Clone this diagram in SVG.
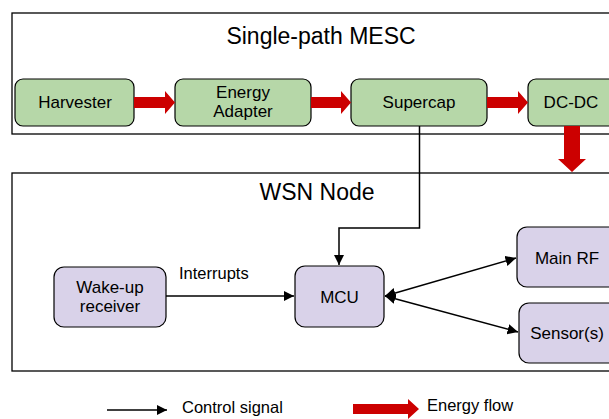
<svg xmlns="http://www.w3.org/2000/svg" width="609" height="419" viewBox="0 0 609 419">
<style>
text{font-family:"Liberation Sans",Arial,sans-serif;fill:#000}
.t{font-size:23px;text-anchor:middle}
.l{font-size:17px;text-anchor:middle}
.s{font-size:16.5px}
.frame{fill:#fff;stroke:#000;stroke-width:1.3}
.g{fill:#b6d7a8;stroke:#000;stroke-width:1.2}
.p{fill:#d9d2e9;stroke:#000;stroke-width:1.2}
.red{fill:#cc0000}
.c{fill:none;stroke:#000;stroke-width:1.5}
</style>
<defs>
<marker id="ah" viewBox="0 0 10 10" refX="10" refY="5" markerWidth="7" markerHeight="7" orient="auto-start-reverse" markerUnits="strokeWidth">
<path d="M0,0 L10,5 L0,10 z" fill="#000"/>
</marker>
</defs>
<rect class="frame" x="12" y="13" width="610" height="121"/>
<text class="t" x="321" y="44">Single-path MESC</text>
<rect class="frame" x="12" y="173" width="610" height="198"/>
<text class="t" x="317" y="200">WSN Node</text>

<g id="harvester"><rect class="g" x="15" y="79" width="119" height="47" rx="8"/><text class="l" x="75" y="108">Harvester</text></g>
<g id="energy-adapter"><rect class="g" x="175" y="79" width="136" height="47" rx="8"/><text class="l" x="243" y="98">Energy</text><text class="l" x="243" y="117">Adapter</text></g>
<g id="supercap"><rect class="g" x="351" y="79" width="136" height="47" rx="8"/><text class="l" x="419" y="108">Supercap</text></g>
<g id="dcdc"><rect class="g" x="528" y="79" width="100" height="47" rx="8"/><text class="l" x="571" y="108">DC-DC</text></g>

<g id="wakeup"><rect class="p" x="54" y="267" width="112" height="60" rx="10"/><text class="l" x="110" y="293">Wake-up</text><text class="l" x="110" y="312">receiver</text></g>
<g id="mcu"><rect class="p" x="295" y="266" width="89" height="61" rx="10"/><text class="l" x="339.5" y="303">MCU</text></g>
<g id="mainrf"><rect class="p" x="517" y="227" width="110" height="60" rx="10"/><text class="l" x="567" y="264">Main RF</text></g>
<g id="sensors"><rect class="p" x="519" y="303" width="110" height="60" rx="10"/><text class="l" x="567" y="339">Sensor(s)</text></g>

<g id="connectors">
<path class="red" d="M134,97 H165 V91 L175,102.5 L165,114 V108 H134 z"/>
<path class="red" d="M311,97 H341 V91 L351,102.5 L341,114 V108 H311 z"/>
<path class="red" d="M487,97 H518 V91 L528,102.5 L518,114 V108 H487 z"/>
<path class="red" d="M564,126 V159 H558 L572,172 L586,159 H580 V126 z"/>
<path class="c" d="M419.5,126 V228 H339 V265" marker-end="url(#ah)"/>
<path class="c" d="M166,296 H294" marker-end="url(#ah)"/>
<text class="s" x="179" y="279">Interrupts</text>
<path class="c" d="M385,296 L516,258" marker-start="url(#ah)" marker-end="url(#ah)"/>
<path class="c" d="M385,296 L518,332" marker-start="url(#ah)" marker-end="url(#ah)"/>
</g>

<g id="legend">
<path class="c" d="M107,410 H167" marker-end="url(#ah)"/>
<text class="s" x="182" y="413">Control signal</text>
<path class="red" d="M353,404 H408 V399 L419,409 L408,419 V414 H353 z"/>
<text class="s" x="427" y="411">Energy flow</text>
</g>
</svg>
